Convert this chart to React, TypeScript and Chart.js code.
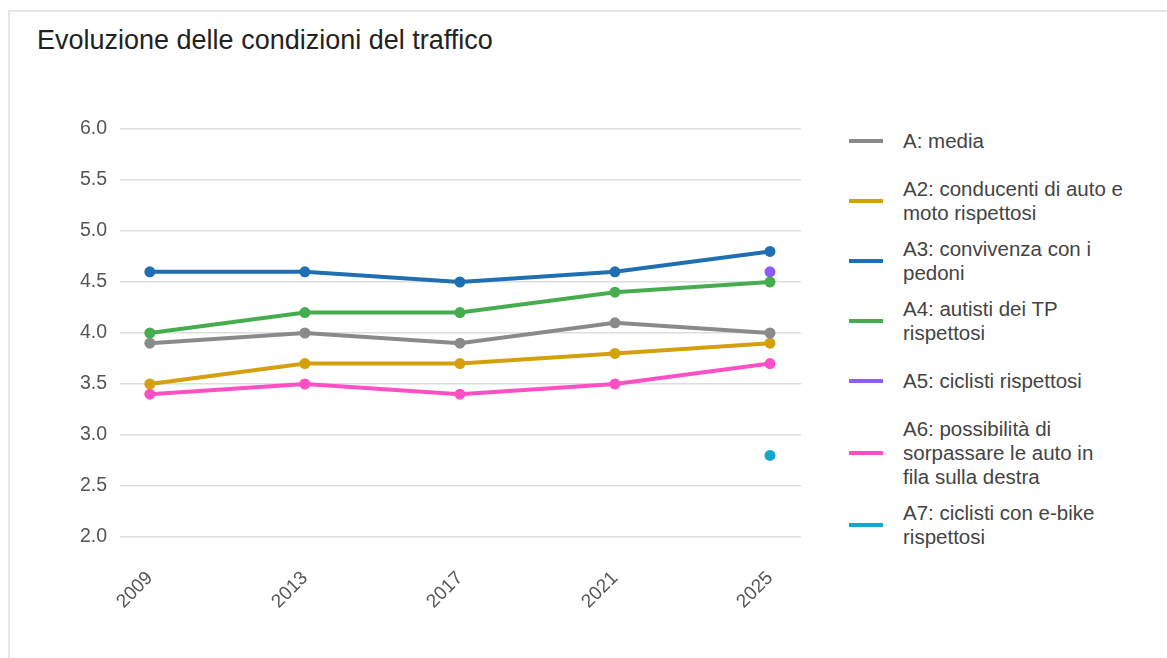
import React, { useEffect, useRef } from "react";
import { Chart, registerables } from "chart.js";

Chart.register(...registerables);

const years = [2009, 2013, 2017, 2021, 2025];
const yTicks = [2.0, 2.5, 3.0, 3.5, 4.0, 4.5, 5.0, 5.5, 6.0];

const seriesA = [3.9, 4.0, 3.9, 4.1, 4.0];
const seriesA2 = [3.5, 3.7, 3.7, 3.8, 3.9];
const seriesA3 = [4.6, 4.6, 4.5, 4.6, 4.8];
const seriesA4 = [4.0, 4.2, 4.2, 4.4, 4.5];
const seriesA5 = [null, null, null, null, 4.6];
const seriesA6 = [3.4, 3.5, 3.4, 3.5, 3.7];
const seriesA7 = [null, null, null, null, 2.8];

const labels = [
  "A: media",
  "A2: conducenti di auto e moto rispettosi",
  "A3: convivenza con i pedoni",
  "A4: autisti dei TP rispettosi",
  "A5: ciclisti rispettosi",
  "A6: possibilità di sorpassare le auto in fila sulla destra",
  "A7: ciclisti con e-bike rispettosi",
];
const legendLines = [
  ["A: media"],
  ["A2: conducenti di auto e", "moto rispettosi"],
  ["A3: convivenza con i", "pedoni"],
  ["A4: autisti dei TP", "rispettosi"],
  ["A5: ciclisti rispettosi"],
  ["A6: possibilità di", "sorpassare le auto in", "fila sulla destra"],
  ["A7: ciclisti con e-bike", "rispettosi"],
];
const colors = ["#8a8a8a", "#d4a00c", "#1f6fb2", "#46ad4e", "#8b5cf6", "#ff4fc4", "#16a8cb"];
const allSeries = [seriesA, seriesA2, seriesA3, seriesA4, seriesA5, seriesA6, seriesA7];

const FONT = "'Liberation Sans', Arial, Helvetica, sans-serif";

export default function App() {
  const ref = useRef<HTMLCanvasElement | null>(null);

  useEffect(() => {
    if (!ref.current) return;
    const chart = new Chart(ref.current, {
      type: "line",
      data: {
        datasets: allSeries.map((s, i) => ({
          label: labels[i],
          data: s.map((v, j) => ({ x: years[j], y: v })) as any,
          borderColor: colors[i],
          backgroundColor: colors[i],
          borderWidth: 4,
          pointRadius: 5.5,
          pointBorderWidth: 0,
          pointBackgroundColor: colors[i],
          spanGaps: false,
        })),
      },
      options: {
        animation: false,
        responsive: false,
        maintainAspectRatio: false,
        layout: { padding: { left: 0, right: 830 - 801, top: 129, bottom: 0 } },
        plugins: { legend: { display: false }, tooltip: { enabled: false }, title: { display: false } },
        scales: {
          x: {
            type: "linear",
            min: 2008.23,
            max: 2025.8,
            grid: { display: false, drawTicks: false },
            border: { display: false },
            afterBuildTicks: (scale: any) => {
              scale.ticks = years.map((v) => ({ value: v }));
            },
            afterFit: (scale: any) => {
              scale.height = 658 - 537;
            },
            ticks: {
              minRotation: 45,
              maxRotation: 45,
              autoSkip: false,
              padding: 30,
              color: "#555",
              font: { family: FONT, size: 19 },
              callback: (v: any) => String(v),
            },
          },
          y: {
            min: 2.0,
            max: 6.0,
            afterBuildTicks: (scale: any) => {
              scale.ticks = yTicks.map((v) => ({ value: v }));
            },
            afterFit: (scale: any) => {
              scale.width = 120;
            },
            grid: { color: "#dedede", lineWidth: 1.5, drawTicks: false },
            border: { display: false },
            ticks: {
              padding: 13,
              color: "#555",
              font: { family: FONT, size: 19.5 },
              callback: (v: any) => Number(v).toFixed(1),
            },
          },
        },
      },
    });
    return () => chart.destroy();
  }, []);

  let y = 141;
  const items: React.ReactNode[] = [];
  legendLines.forEach((lines, i) => {
    const h = Math.max(2, lines.length) * 24 + 12;
    if (i > 0) {
      const prevH = Math.max(2, legendLines[i - 1].length) * 24 + 12;
      y += prevH / 2 + h / 2;
    }
    items.push(
      <div key={i} style={{ position: "absolute", left: 849, top: y - 2, width: 34, height: 4, background: colors[i] }} />
    );
    items.push(
      <div
        key={"t" + i}
        style={{
          position: "absolute",
          left: 903,
          top: y - (lines.length * 24) / 2,
          lineHeight: "24px",
          fontSize: 20.5,
          fontFamily: FONT,
          color: "#444",
          whiteSpace: "nowrap",
        }}
      >
        {lines.map((l, k) => (
          <div key={k}>{l}</div>
        ))}
      </div>
    );
  });

  return (
    <div style={{ position: "absolute", left: 0, top: 0, width: 1167, height: 658, overflow: "hidden", background: "#fff" }}>
      <div
        style={{
          position: "absolute",
          left: 8,
          top: 10,
          width: 1200,
          height: 700,
          borderTop: "2px solid #e6e6e6",
          borderLeft: "2px solid #e6e6e6",
        }}
      />
      <div
        style={{
          position: "absolute",
          left: 37,
          top: 25,
          fontFamily: FONT,
          fontSize: 27,
          color: "#222",
          whiteSpace: "nowrap",
        }}
      >
        Evoluzione delle condizioni del traffico
      </div>
      <canvas ref={ref} width={830} height={658} style={{ position: "absolute", left: 0, top: 0 }} />
      {items}
    </div>
  );
}
